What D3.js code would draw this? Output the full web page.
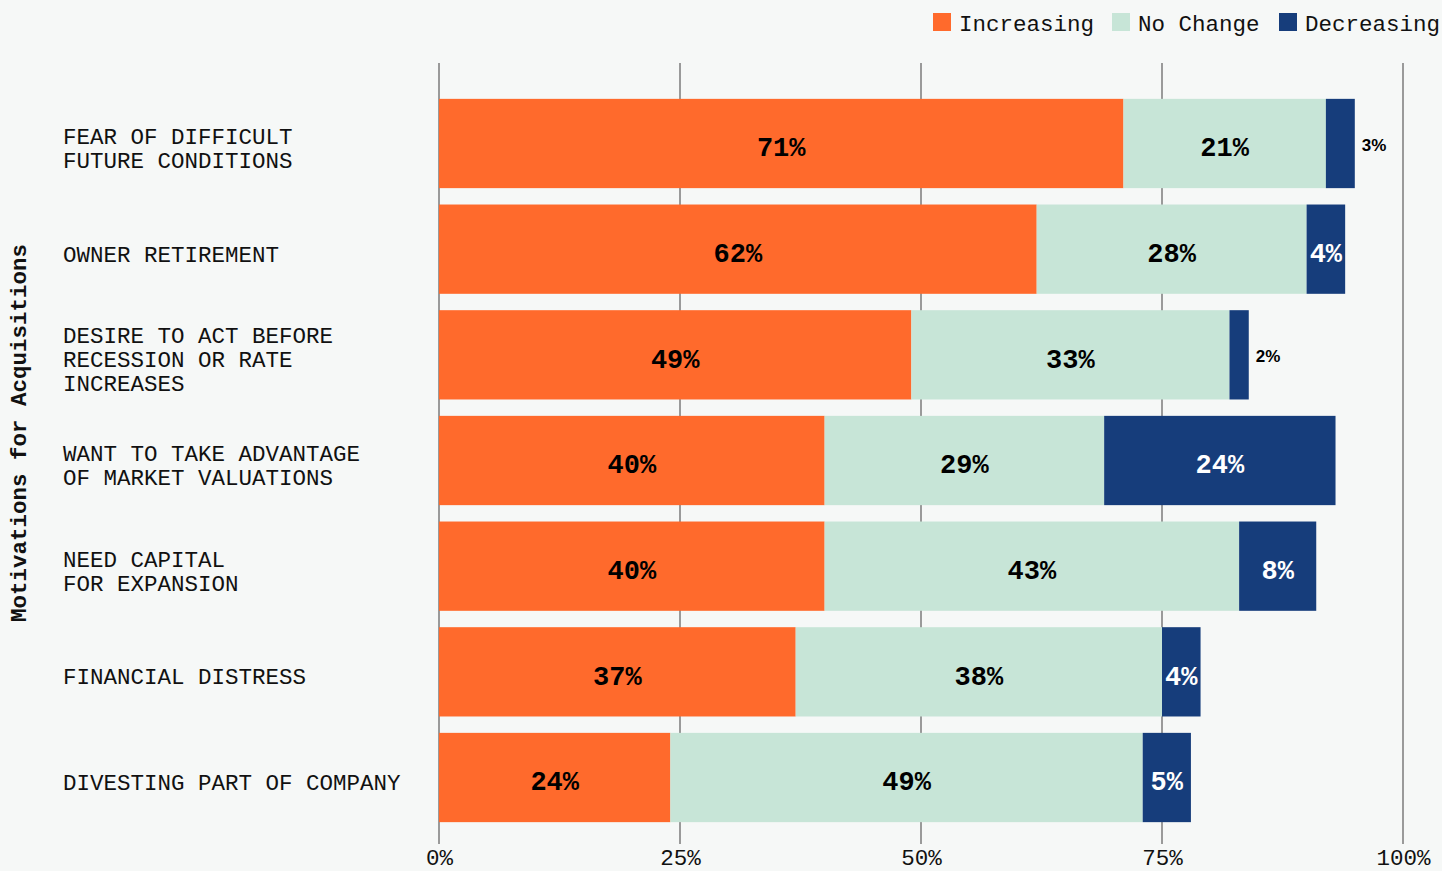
<!DOCTYPE html>
<html>
<head>
<meta charset="utf-8">
<script src="https://cdn.jsdelivr.net/npm/d3@7"></script>
<style>
  html, body { margin: 0; padding: 0; background: #f6f8f7; }
  svg { display: block; }
</style>
</head>
<body>
<svg id="chart" width="1442" height="871"></svg>
<script>
// Motivations for acquisitions: share of respondents by expected trend
const categories = [
  ["FEAR OF DIFFICULT", "FUTURE CONDITIONS"],
  ["OWNER RETIREMENT"],
  ["DESIRE TO ACT BEFORE", "RECESSION OR RATE", "INCREASES"],
  ["WANT TO TAKE ADVANTAGE", "OF MARKET VALUATIONS"],
  ["NEED CAPITAL", "FOR EXPANSION"],
  ["FINANCIAL DISTRESS"],
  ["DIVESTING PART OF COMPANY"]
];
const increasing = [71, 62, 49, 40, 40, 37, 24];
const noChange   = [21, 28, 33, 29, 43, 38, 49];
const decreasing = [3, 4, 2, 24, 8, 4, 5];
const seriesNames = ["Increasing", "No Change", "Decreasing"];
const xTicks = [0, 25, 50, 75, 100];
const yTitle = "Motivations for Acquisitions";

const colors = { "Increasing": "#ff6a2c", "No Change": "#c7e5d7", "Decreasing": "#163d7b" };
const textColors = { "Increasing": "#000", "No Change": "#000", "Decreasing": "#fff" };

const rows = categories.map((c, i) => ({
  key: c.join(" "),
  lines: c,
  "Increasing": increasing[i],
  "No Change": noChange[i],
  "Decreasing": decreasing[i]
}));

const svg = d3.select("#chart");
const monoFont = "'Liberation Mono', 'DejaVu Sans Mono', monospace";
const textSize = 22.5;

const x = d3.scaleLinear().domain([0, 100]).range([439, 1403]);
const y = d3.scaleBand()
  .domain(rows.map(d => d.key))
  .range([83, 838])
  .paddingInner(0.155)
  .paddingOuter(0.15);

// vertical gridlines
svg.append("g")
  .selectAll("line")
  .data(xTicks)
  .join("line")
  .attr("x1", d => x(d)).attr("x2", d => x(d))
  .attr("y1", 63).attr("y2", 844)
  .attr("stroke", "#9a9a9a")
  .attr("stroke-width", 2);

// tick labels along the bottom
const xAxis = d3.axisBottom(x).tickValues(xTicks).tickFormat(d => d + "%").tickSize(0).tickPadding(0);
const xg = svg.append("g").attr("transform", "translate(0,848)").call(xAxis);
xg.select(".domain").remove();
xg.selectAll("text")
  .attr("font-family", monoFont)
  .attr("font-size", textSize)
  .attr("fill", "#111")
  .attr("dy", "0.75em");

// stacked bars
const stacked = d3.stack().keys(seriesNames)(rows);

const layers = svg.append("g")
  .selectAll("g")
  .data(stacked)
  .join("g")
  .attr("fill", s => colors[s.key]);

layers.selectAll("rect")
  .data(s => s.map(p => ({ p, key: s.key })))
  .join("rect")
  .attr("x", d => x(d.p[0]))
  .attr("width", d => x(d.p[1]) - x(d.p[0]))
  .attr("y", d => y(d.p.data.key))
  .attr("height", y.bandwidth());

// value labels: inside wide segments, beside the bar for narrow ones
const labelData = [];
stacked.forEach(s => s.forEach(p => {
  labelData.push({ key: s.key, v: p.data[s.key], x0: p[0], x1: p[1], row: p.data.key });
}));

svg.append("g")
  .selectAll("text")
  .data(labelData)
  .join("text")
  .attr("x", d => d.v <= 3 ? x(d.x1) + 7 : (x(d.x0) + x(d.x1)) / 2)
  .attr("y", d => y(d.row) + y.bandwidth() / 2)
  .attr("dy", d => d.v <= 3 ? "0.45em" : "0.47em")
  .attr("text-anchor", d => d.v <= 3 ? "start" : "middle")
  .attr("font-family", d => d.v <= 3 ? "'Liberation Sans', Arial, sans-serif" : monoFont)
  .attr("font-weight", "bold")
  .attr("font-size", d => d.v <= 3 ? 17 : 27)
  .attr("fill", d => d.v <= 3 ? "#000" : textColors[d.key])
  .text(d => d.v + "%");

// category labels
const catG = svg.append("g")
  .selectAll("text")
  .data(rows)
  .join("text")
  .attr("x", 63)
  .attr("y", d => y(d.key) + y.bandwidth() / 2)
  .attr("font-family", monoFont)
  .attr("font-size", textSize)
  .attr("fill", "#111");

catG.selectAll("tspan")
  .data(d => d.lines.map((l, i) => ({ l, i, n: d.lines.length })))
  .join("tspan")
  .attr("x", 63)
  .attr("dy", d => d.i === 0 ? ((-(d.n - 1) / 2) * 24 + 12.5) + "px" : "24px")
  .text(d => d.l);

// y-axis title
svg.append("text")
  .attr("transform", "translate(26,433) rotate(-90)")
  .attr("text-anchor", "middle")
  .attr("font-family", monoFont)
  .attr("font-weight", "bold")
  .attr("font-size", textSize)
  .attr("fill", "#111")
  .text(yTitle);

// legend
const legendX = [933, 1112, 1279];
const legend = svg.append("g")
  .selectAll("g")
  .data(seriesNames)
  .join("g")
  .attr("transform", (d, i) => `translate(${legendX[i]},13)`);

legend.append("rect")
  .attr("width", 18).attr("height", 18)
  .attr("fill", d => colors[d]);

legend.append("text")
  .attr("x", 26).attr("y", 18)
  .attr("font-family", monoFont)
  .attr("font-size", textSize)
  .attr("fill", "#111")
  .text(d => d);
</script>
</body>
</html>
